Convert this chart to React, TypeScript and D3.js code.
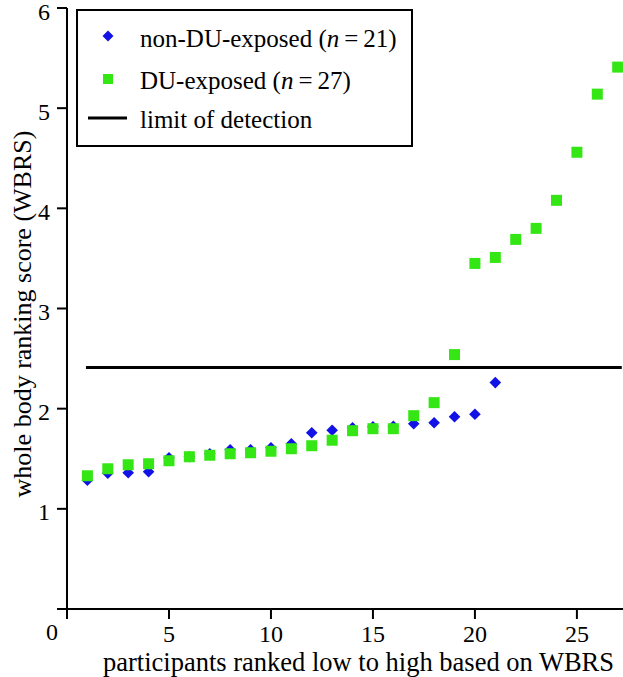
import React from "react";
import * as d3 from "d3";

const nonDU: number[] = [1.285, 1.355, 1.36, 1.37, 1.51, 1.52, 1.55, 1.59, 1.59, 1.61, 1.65, 1.76, 1.785, 1.81, 1.82, 1.825, 1.85, 1.86, 1.92, 1.945, 2.26];
const duExposed: number[] = [1.33, 1.40, 1.44, 1.45, 1.48, 1.52, 1.535, 1.55, 1.56, 1.575, 1.60, 1.63, 1.685, 1.78, 1.80, 1.80, 1.93, 2.06, 2.54, 3.45, 3.51, 3.69, 3.80, 4.08, 4.56, 5.14, 5.41];
const limitOfDetection = 2.41;
const xTicks: number[] = [5, 10, 15, 20, 25];
const yTicks: number[] = [1, 2, 3, 4, 5, 6];

const W = 623;
const H = 677;
const FONT = "Liberation Serif";
const BLUE = "#1212e6";
const GREEN = "#33e614";

export default function App() {
  const x = d3.scaleLinear().domain([0, 27.26]).range([67, 623]);
  const y = d3.scaleLinear().domain([0, 6]).range([609, 8]);
  const sq = 11;
  const diamond = (cx: number, cy: number, r: number) =>
    `M${cx},${cy - r}L${cx + r},${cy}L${cx},${cy + r}L${cx - r},${cy}Z`;
  const T = { fontFamily: FONT, fill: "#000" } as const;

  return (
    <div style={{ position: "absolute", left: 0, top: 0, width: W, height: H, background: "#fff" }}>
      <svg width={W} height={H} style={{ display: "block" }}>
        <rect x={0} y={0} width={W} height={H} fill="#fff" />
        {/* axes */}
        <line x1={x(0)} x2={x(0)} y1={y(6)} y2={y(0) + 10} stroke="#000" strokeWidth={2} />
        <line x1={x(0) - 10} x2={W} y1={y(0)} y2={y(0)} stroke="#000" strokeWidth={2} />
        {yTicks.map((t) => (
          <g key={"yt" + t}>
            <line x1={x(0) - 10} x2={x(0)} y1={y(t)} y2={y(t)} stroke="#000" strokeWidth={2} />
            <text {...T} x={50} y={y(t) + 11.5} textAnchor="end" fontSize={24}>{t}</text>
          </g>
        ))}
        {xTicks.map((t) => (
          <g key={"xt" + t}>
            <line x1={x(t)} x2={x(t)} y1={y(0)} y2={y(0) + 10} stroke="#000" strokeWidth={2} />
            <text {...T} x={x(t)} y={642} textAnchor="middle" fontSize={24}>{t}</text>
          </g>
        ))}
        <text {...T} x={52} y={640} textAnchor="middle" fontSize={24}>0</text>
        {/* axis titles */}
        <text {...T} x={103} y={671} textAnchor="start" fontSize={26.5}>
          participants ranked low to high based on WBRS
        </text>
        <text {...T} transform={`translate(31,314) rotate(-90)`} textAnchor="middle" fontSize={26}>
          whole body ranking score (WBRS)
        </text>
        {/* limit of detection */}
        <line x1={x(0.93)} x2={x(27.2)} y1={y(limitOfDetection)} y2={y(limitOfDetection)} stroke="#000" strokeWidth={3} />
        {/* non-DU-exposed diamonds */}
        {nonDU.map((v, i) => (
          <path key={"b" + i} d={diamond(x(i + 1), y(v), 5.8)} fill={BLUE} />
        ))}
        {/* DU-exposed squares */}
        {duExposed.map((v, i) => (
          <rect key={"g" + i} x={x(i + 1) - sq / 2} y={y(v) - sq / 2} width={sq} height={sq} fill={GREEN} />
        ))}
        {/* legend */}
        <rect x={77} y={10} width={335} height={136} fill="#fff" stroke="#000" strokeWidth={2} />
        <path d={diamond(108, 36, 5.5)} fill={BLUE} />
        <text {...T} x={140} y={46.5} fontSize={25}>
          non-DU-exposed (<tspan fontStyle="italic">n</tspan>{"\u2009=\u200921)"}
        </text>
        <rect x={103} y={74} width={10} height={10} fill={GREEN} />
        <text {...T} x={140} y={89} fontSize={25}>
          DU-exposed (<tspan fontStyle="italic">n</tspan>{"\u2009=\u200927)"}
        </text>
        <line x1={88} x2={127} y1={118} y2={118} stroke="#000" strokeWidth={3} />
        <text {...T} x={140} y={128} fontSize={25}>limit of detection</text>
      </svg>
    </div>
  );
}
